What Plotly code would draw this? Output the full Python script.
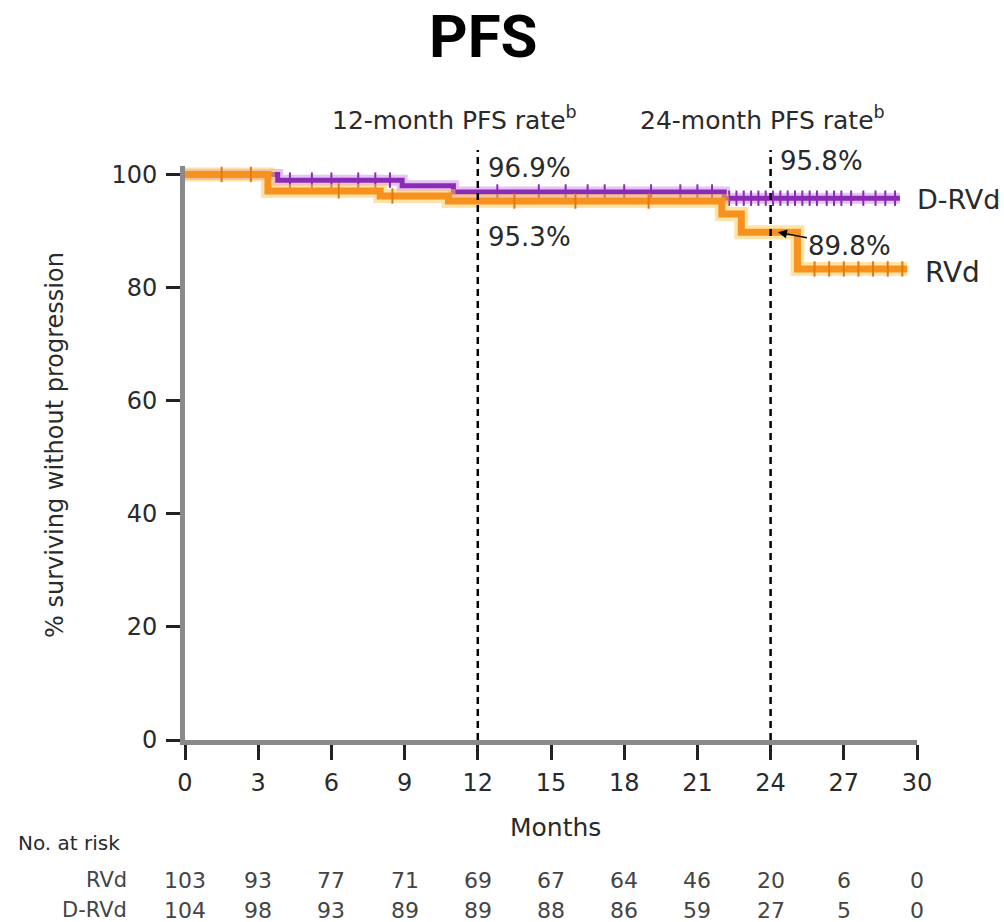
import numpy as np
import plotly.graph_objects as go

# ---------------- data ----------------
rvd_time = [0, 3.4, 8.0, 10.8, 22.0, 22.8, 25.1, 29.6]
rvd_surv = [100, 97.1, 96.2, 95.3, 93.0, 89.8, 83.3, 83.3]
rvd_censor = [1.5, 2.7, 6.3, 8.5, 13.5, 16.0, 19.0, 25.8, 26.4, 27.0, 27.6, 28.2, 28.8, 29.4]

drvd_time = [0, 3.8, 8.9, 11.0, 22.1, 29.3]
drvd_surv = [100, 99.0, 98.0, 96.9, 95.8, 95.8]
drvd_censor = [4.3, 5.2, 6.0, 7.1, 7.8, 8.4, 12.8, 14.5, 15.6, 16.5, 17.2, 18.0, 19.1,
               20.3, 21.0, 21.6, 22.3, 22.6, 22.9, 23.2, 23.5, 23.8, 24.1, 24.4, 24.7,
               25.0, 25.3, 25.6, 25.9, 26.3, 26.6, 26.9, 27.3, 27.8, 28.3, 28.7, 29.1]

month_ticks = [0, 3, 6, 9, 12, 15, 18, 21, 24, 27, 30]
at_risk_rvd = [103, 93, 77, 71, 69, 67, 64, 46, 20, 6, 0]
at_risk_drvd = [104, 98, 93, 89, 89, 88, 86, 59, 27, 5, 0]
y_ticks = [0, 20, 40, 60, 80, 100]

rate12_drvd, rate12_rvd = 96.9, 95.3
rate24_drvd, rate24_rvd = 95.8, 89.8

# ---------------- geometry helpers ----------------
W, H = 1004, 922
L, R, T, B = 185, 87, 166, 182
PW, PH = W - L - R, H - T - B


def px_x(px):
    return (px - L) / PW


def px_y(py):
    return (H - B - py) / PH


def step_at(times, surv, t):
    idx = np.searchsorted(np.array(times), t, side="right") - 1
    return [surv[i] for i in idx]


FONT = "DejaVu Sans"
TXT = "#2a2a2a"
ORANGE = "#F7921E"
PURPLE = "#8A2BB5"

fig = go.Figure()

# D-RVd (purple)
fig.add_trace(go.Scatter(x=drvd_time, y=drvd_surv, mode="lines", line_shape="hv",
                         line=dict(color="rgba(200,120,230,0.45)", width=11),
                         hoverinfo="skip", showlegend=False))
fig.add_trace(go.Scatter(x=drvd_time, y=drvd_surv, mode="lines", line_shape="hv",
                         line=dict(color=PURPLE, width=5), name="D-RVd", showlegend=False))
fig.add_trace(go.Scatter(x=drvd_censor, y=step_at(drvd_time, drvd_surv, drvd_censor),
                         mode="markers", marker=dict(symbol="line-ns-open", size=11, color=PURPLE,
                                                     line=dict(color=PURPLE, width=2)),
                         showlegend=False, cliponaxis=False))

# RVd (orange)
fig.add_trace(go.Scatter(x=rvd_time, y=rvd_surv, mode="lines", line_shape="hv",
                         line=dict(color="rgba(255,200,80,0.5)", width=14),
                         hoverinfo="skip", showlegend=False))
fig.add_trace(go.Scatter(x=rvd_time, y=rvd_surv, mode="lines", line_shape="hv",
                         line=dict(color=ORANGE, width=7), name="RVd", showlegend=False))
fig.add_trace(go.Scatter(x=rvd_censor, y=step_at(rvd_time, rvd_surv, rvd_censor),
                         mode="markers", marker=dict(symbol="line-ns-open", size=11, color="#E07A10",
                                                     line=dict(color="#E07A10", width=2)),
                         showlegend=False, cliponaxis=False))

# dashed landmark lines
for xm in (12, 24):
    fig.add_shape(type="line", xref="x", yref="paper", x0=xm, x1=xm, y0=0, y1=px_y(150),
                  line=dict(color="black", width=2.5, dash="7px,5px"), layer="above")


def label(text, px, py, size, xanchor="center", color=TXT, family=FONT, **kw):
    d = dict(text=text, xref="paper", yref="paper", x=px_x(px), y=px_y(py),
             xanchor=xanchor, yanchor="middle", showarrow=False,
             font=dict(family=family, size=size, color=color))
    d.update(kw)
    return d


ann = []
ann.append(label("<b>PFS</b>", 483, 37, 60, family="Roboto", color="black"))
ann.append(label("12-month PFS rate<sup>b</sup>", 330, 118, 25, xanchor="left"))
ann.append(label("24-month PFS rate<sup>b</sup>", 638, 118, 25, xanchor="left"))
ann.append(dict(text=f"{rate12_drvd}%", xref="x", yref="paper", x=12, xshift=8,
                y=px_y(168), xanchor="left", yanchor="middle",
                font=dict(family=FONT, size=26, color=TXT), showarrow=False))
ann.append(dict(text=f"{rate12_rvd}%", xref="x", yref="paper", x=12, xshift=8,
                y=px_y(237), xanchor="left", yanchor="middle",
                font=dict(family=FONT, size=26, color=TXT), showarrow=False))
ann.append(dict(text=f"{rate24_drvd}%", xref="x", yref="paper", x=24, xshift=7,
                y=px_y(161), xanchor="left", yanchor="middle",
                font=dict(family=FONT, size=26, color=TXT), showarrow=False))
ann.append(dict(text=f"{rate24_rvd}%", xref="x", yref="y", x=24.3, y=rate24_rvd,
                ax=72, ay=14, showarrow=True, arrowhead=2, arrowsize=1.2,
                arrowwidth=1.5, arrowcolor="black",
                font=dict(family=FONT, size=26, color=TXT)))
ann.append(label("D-RVd", 915, 200, 27, xanchor="left"))
ann.append(label("RVd", 923, 272, 28, xanchor="left"))
ann.append(label("% surviving without progression", 55, 445, 24, textangle=-90))
ann.append(label("Months", 555, 827, 25))
ann.append(label("No. at risk", 16, 843, 20, xanchor="left"))
ann.append(label("RVd", 129, 880, 21, xanchor="right", color="#444"))
ann.append(label("D-RVd", 129, 910, 21, xanchor="right", color="#444"))
for m, a, b in zip(month_ticks, at_risk_rvd, at_risk_drvd):
    ann.append(dict(text=str(a), xref="x", yref="paper", x=m, y=px_y(880),
                    xanchor="center", yanchor="middle",
                    font=dict(family=FONT, size=22, color="#444"), showarrow=False))
    ann.append(dict(text=str(b), xref="x", yref="paper", x=m, y=px_y(910),
                    xanchor="center", yanchor="middle",
                    font=dict(family=FONT, size=22, color="#444"), showarrow=False))

fig.update_layout(
    width=W, height=H, autosize=False,
    margin=dict(l=L, r=R, t=T, b=B, pad=0),
    paper_bgcolor="white", plot_bgcolor="white",
    annotations=ann, showlegend=False,
    xaxis=dict(range=[0, 30], tickvals=month_ticks, ticks="outside", ticklen=15,
               tickwidth=2.5, tickcolor="#222", showline=True, linecolor="#8a8a8a",
               linewidth=5, showgrid=False, zeroline=False,
               tickfont=dict(family=FONT, size=24, color=TXT), ticklabelstandoff=2),
    yaxis=dict(range=[0, 101.5], tickvals=y_ticks, ticks="outside", ticklen=14,
               tickwidth=2.5, tickcolor="#222", showline=True, linecolor="#8a8a8a",
               linewidth=5, showgrid=False, zeroline=False,
               tickfont=dict(family=FONT, size=24, color=TXT), ticklabelstandoff=4),
)

fig.write_html("out.html")
